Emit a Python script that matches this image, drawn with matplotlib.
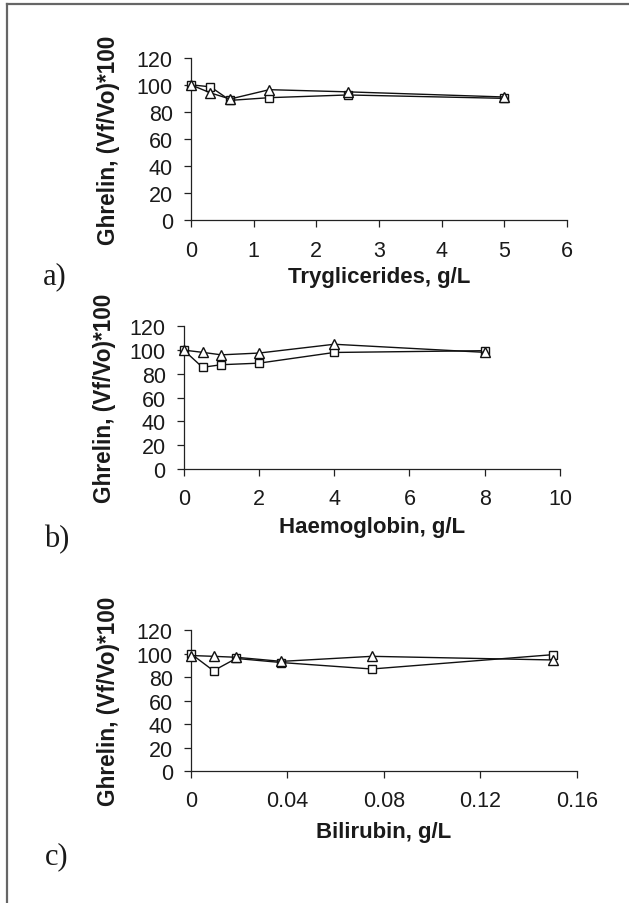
import matplotlib
matplotlib.use("Agg")
import matplotlib.pyplot as plt
from matplotlib.lines import Line2D

# ---- data ----
trig_x = [0, 0.3125, 0.625, 1.25, 2.5, 5]
trig_sq = [100, 98.5, 88.5, 90.5, 92.5, 90]
trig_tri = [100, 94, 89.5, 96.4, 94.8, 91]

haem_x = [0, 0.5, 1, 2, 4, 8]
haem_sq = [100, 85.5, 87.7, 89, 98, 99.5]
haem_tri = [100, 98.1, 96, 97.5, 104.9, 98.1]

bili_x = [0, 0.009375, 0.01875, 0.0375, 0.075, 0.15]
bili_sq = [100, 85.5, 96, 92.5, 87, 99.2]
bili_tri = [98.5, 97.8, 97, 93.5, 97.8, 94.7]

ylabel = "Ghrelin, (Vf/Vo)*100"
xlabels = ["Tryglicerides, g/L", "Haemoglobin, g/L", "Bilirubin, g/L"]
panel_labels = ["a)", "b)", "c)"]
yticks = [0, 20, 40, 60, 80, 100, 120]
xticks_a = [0, 1, 2, 3, 4, 5, 6]
xticks_b = [0, 2, 4, 6, 8, 10]
xticks_c = [0, 0.04, 0.08, 0.12, 0.16]
xticklabels_c = ["0", "0.04", "0.08", "0.12", "0.16"]

W, H = 629, 904
fig = plt.figure(figsize=(W / 100, H / 100), dpi=100)
fig.patch.set_facecolor("white")

sans = ["Liberation Sans", "DejaVu Sans"]
serif = ["Liberation Serif", "DejaVu Serif"]

# axes rectangles in pixels: (left, right, top(120), bottom(0))
rects = [(190.9, 567.2, 58.7, 221.3),
         (183.7, 560.0, 327.3, 470.0),
         (190.9, 576.8, 631.3, 772.0)]
ylab_x = [109, 105, 108]
xlab_y = [278, 527, 833]
plab_pos = [(55, 277), (57, 540), (57, 857)]

datasets = [(trig_x, trig_sq, trig_tri, xticks_a, None, (0, 6)),
            (haem_x, haem_sq, haem_tri, xticks_b, None, (0, 10)),
            (bili_x, bili_sq, bili_tri, xticks_c, xticklabels_c, (0, 0.16))]

for i, ((l, r, t, b), (xs, sq, tri, xt, xtl, xlim)) in enumerate(zip(rects, datasets)):
    ax = fig.add_axes([l / W, 1 - b / H, (r - l) / W, (b - t) / H])
    ax.plot(xs, sq, color="#111111", lw=1.0, marker="s", ms=6, mfc="white",
            mec="#111111", mew=1.0, zorder=3, clip_on=False)
    ax.plot(xs, tri, color="#111111", lw=1.0, marker="^", ms=6.5, mfc="white",
            mec="#111111", mew=1.0, zorder=3, clip_on=False)
    ax.set_xlim(*xlim)
    ax.set_ylim(0, 120)
    ax.set_yticks(yticks)
    ax.set_xticks(xt)
    if xtl is not None:
        ax.set_xticklabels(xtl)
    for s in ["top", "right"]:
        ax.spines[s].set_visible(False)
    for s in ["left", "bottom"]:
        ax.spines[s].set_color("#222222")
        ax.spines[s].set_linewidth(0.9)
    ax.tick_params(axis="both", direction="out", length=5, width=0.9,
                   color="#222222", labelsize=15.5, labelcolor="#1a1a1a")
    ax.tick_params(axis="x", pad=9)
    ax.tick_params(axis="y", pad=8)
    for lab in ax.get_xticklabels() + ax.get_yticklabels():
        lab.set_family(sans)
    ax.set_facecolor("none")
    ax.set_ylabel(ylabel, fontsize=16.3, fontweight="bold", family=sans,
                  color="#1a1a1a")
    ax.yaxis.set_label_coords(ylab_x[i] / W, 1 - ((t + b) / 2) / H,
                              transform=fig.transFigure)
    ax.yaxis.label.set_va("center")
    ax.set_xlabel(xlabels[i], fontsize=16, fontweight="bold", family=sans,
                  color="#1a1a1a")
    ax.xaxis.set_label_coords(((l + r) / 2) / W, 1 - xlab_y[i] / H,
                              transform=fig.transFigure)
    ax.xaxis.label.set_va("center")
    px, py = plab_pos[i]
    fig.text(px / W, 1 - py / H, panel_labels[i], family=serif, fontsize=22,
             ha="center", va="center", color="#1a1a1a")

# frame lines (top and left only)
fig.add_artist(Line2D([7 / W, 7 / W], [0, 1 - 5 / H], transform=fig.transFigure,
                      color="#666666", lw=1.6))
fig.add_artist(Line2D([7 / W, 1], [1 - 5 / H, 1 - 5 / H], transform=fig.transFigure,
                      color="#666666", lw=1.6))

fig.savefig("out.png", dpi=100, facecolor="white")
